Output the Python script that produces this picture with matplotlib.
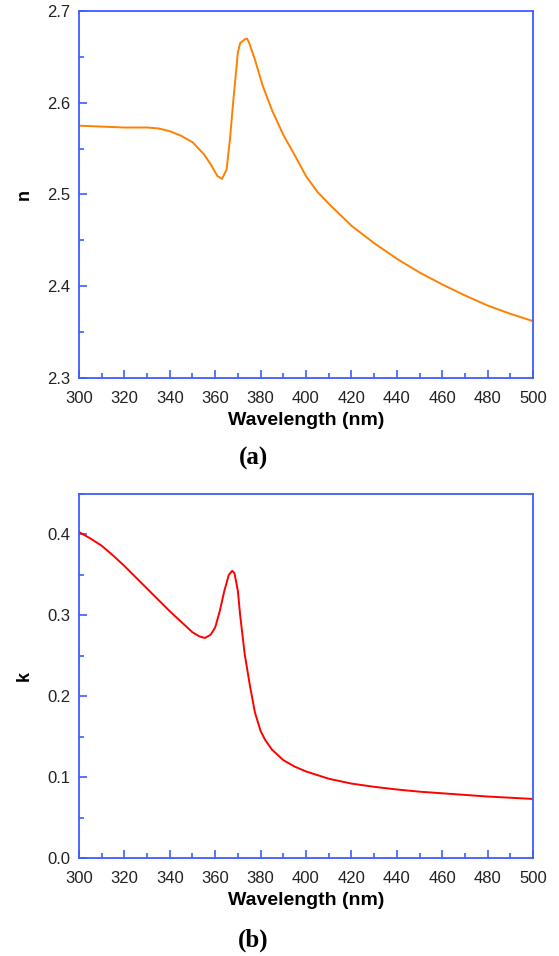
"""
Refractive index n and extinction coefficient k versus wavelength.
"""

import matplotlib
matplotlib.use("Agg")
import matplotlib.pyplot as plt
from matplotlib.ticker import MultipleLocator

# Panel (a): refractive index n
wl_n = [300, 310, 320, 330, 335, 340, 345, 350, 355, 358, 361, 363, 365,
        366.5, 368, 370, 371, 373, 374, 375, 377.5, 381, 385, 390, 395, 400,
        405, 410, 420, 430, 440, 450, 460, 470, 480, 490, 500]
n_vals = [2.575, 2.574, 2.573, 2.573, 2.572, 2.569, 2.564, 2.557, 2.544,
          2.533, 2.520, 2.517, 2.527, 2.560, 2.603, 2.655, 2.665, 2.669,
          2.670, 2.665, 2.647, 2.618, 2.592, 2.565, 2.543, 2.520, 2.503,
          2.490, 2.466, 2.447, 2.430, 2.415, 2.402, 2.390, 2.379, 2.370, 2.362]

# Panel (b): extinction coefficient k
wl_k = [300, 305, 310, 315, 320, 325, 330, 335, 340, 345, 350, 353, 355.5,
        358, 360, 362, 364, 366, 367.5, 368.5, 370, 371, 373, 375.3, 377.5,
        380, 382, 385, 390, 395, 400, 410, 420, 430, 440, 450, 460, 470,
        480, 490, 500]
k_vals = [0.403, 0.395, 0.386, 0.374, 0.361, 0.347, 0.333, 0.319, 0.305,
          0.292, 0.279, 0.274, 0.272, 0.276, 0.285, 0.305, 0.330, 0.350,
          0.355, 0.352, 0.330, 0.300, 0.252, 0.213, 0.180, 0.157, 0.146,
          0.134, 0.121, 0.113, 0.107, 0.098, 0.092, 0.088, 0.0847, 0.082,
          0.080, 0.078, 0.076, 0.0745, 0.073]

BLUE = "#3f5cff"
SANS = "Liberation Sans"
SERIF = "Liberation Serif"

fig = plt.figure(figsize=(5.59, 9.56), dpi=100)
ax_a = fig.add_axes([0.1413, 0.6046, 0.8122, 0.3839])
ax_b = fig.add_axes([0.1413, 0.1025, 0.8122, 0.3808])


def style(ax, ylab, ylim, ymaj, ymin, fmt):
    ax.set_xlim(300, 500)
    ax.set_ylim(*ylim)
    ax.xaxis.set_major_locator(MultipleLocator(20))
    ax.xaxis.set_minor_locator(MultipleLocator(10))
    ax.yaxis.set_major_locator(MultipleLocator(ymaj))
    ax.yaxis.set_minor_locator(MultipleLocator(ymin))
    ax.yaxis.set_major_formatter(fmt)
    for s in ax.spines.values():
        s.set_color(BLUE)
        s.set_linewidth(1.3)
    ax.tick_params(which="both", direction="in", color=BLUE, width=1.2,
                   top=False, right=False, labelsize=12,
                   labelcolor="#222222")
    ax.tick_params(axis="x", pad=9)
    ax.tick_params(axis="y", pad=6)
    ax.tick_params(which="major", length=6)
    ax.tick_params(which="minor", length=3.5)
    for lab in ax.get_xticklabels() + ax.get_yticklabels():
        lab.set_family(SANS)
    ax.set_xlabel("Wavelength (nm)", family=SANS, fontweight="bold",
                  fontsize=14, labelpad=5)
    ax.set_ylabel(ylab, family=SANS, fontweight="bold", fontsize=13,
                  labelpad=11)


ax_a.plot(wl_n, n_vals, color="#ff8000", lw=1.4)
style(ax_a, "n", (2.3, 2.7), 0.1, 0.05, "{x:.1f}")
fig.text(0.4535, 0.5205, "(a)", family=SERIF, fontweight="bold", fontsize=18,
         ha="center", va="center")

ax_b.plot(wl_k, k_vals, color="#ff0000", lw=1.4)
style(ax_b, "k", (0.0, 0.45), 0.1, 0.05, "{x:.1f}")
fig.text(0.4535, 0.0167, "(b)", family=SERIF, fontweight="bold", fontsize=18,
         ha="center", va="center")

fig.savefig("out.png", dpi=100)
